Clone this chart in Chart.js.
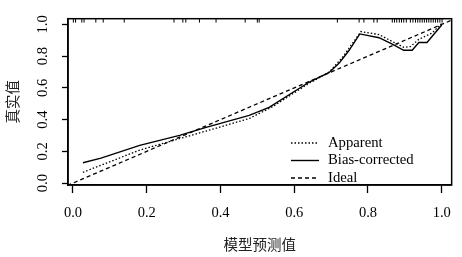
<!DOCTYPE html>
<html>
<head>
<meta charset="utf-8">
<script src="https://cdn.jsdelivr.net/npm/chart.js@4.4.1/dist/chart.umd.min.js"></script>
<style>
  body { margin: 0; background: #fff; }
  #wrap { width: 462px; height: 257px; }
</style>
</head>
<body>
<div id="wrap"><canvas id="calChart"></canvas></div>
<script>
// values
const biasX = [0.027, 0.076, 0.181, 0.289, 0.361, 0.478, 0.532, 0.641, 0.695, 0.722, 0.749, 0.778, 0.830, 0.866, 0.897, 0.920, 0.938, 0.960, 1.000];
const biasY = [0.128, 0.157, 0.238, 0.301, 0.351, 0.427, 0.477, 0.637, 0.697, 0.756, 0.837, 0.940, 0.916, 0.876, 0.837, 0.837, 0.886, 0.886, 0.996];

const apparentX = [0.027, 0.181, 0.361, 0.478, 0.540, 0.641, 0.695, 0.730, 0.781, 0.830, 0.866, 0.897, 0.915, 0.938, 0.974, 1.000];
const apparentY = [0.068, 0.208, 0.328, 0.407, 0.480, 0.630, 0.700, 0.790, 0.955, 0.936, 0.892, 0.856, 0.860, 0.906, 0.946, 1.006];

const idealX = [-0.05, 1.05];

// predicted probabilities shown as a rug on the top edge
const rugX = [0.001, 0.007, 0.024, 0.030, 0.062, 0.082, 0.139, 0.274, 0.298, 0.306, 0.343, 0.388, 0.467, 0.500, 0.505,
  0.717, 0.776, 0.789, 0.816, 0.825, 0.866, 0.872, 0.878, 0.885, 0.891, 0.897, 0.904, 0.915, 0.922, 0.929,
  0.935, 0.941, 0.947, 0.953, 0.959, 0.965, 0.971, 0.977, 0.983, 0.989, 0.995, 1.001];

const xTicks = [0, 0.2, 0.4, 0.6, 0.8, 1.0];
const yTicks = [0, 0.2, 0.4, 0.6, 0.8, 1.0];
const legendNames = ['Apparent', 'Bias-corrected', 'Ideal'];

const serif = '"Liberation Serif", "Times New Roman", serif';
const cjk = '"Noto Sans CJK SC", sans-serif';

const pts = (xs, ys) => xs.map((x, i) => ({ x: x, y: ys[i] }));

// full box round the plot
const boxPlugin = {
  id: 'box',
  afterDatasetsDraw(chart) {
    const a = chart.chartArea;
    const ctx = chart.ctx;
    ctx.save();
    ctx.strokeStyle = '#000';
    ctx.lineWidth = 1.5;
    ctx.strokeRect(a.left, a.top, a.right - a.left, a.bottom - a.top);
    ctx.restore();
  }
};

// legend inside the plot, lower right, with line samples
const lineLegend = {
  id: 'lineLegend',
  afterDraw(chart) {
    const ctx = chart.ctx;
    const rows = [143, 160.5, 178];
    ctx.save();
    ctx.font = '14.7px ' + serif;
    ctx.fillStyle = '#000';
    ctx.textBaseline = 'middle';
    legendNames.forEach((name, i) => {
      const ds = chart.data.datasets[i];
      ctx.strokeStyle = '#000';
      ctx.lineWidth = ds.borderWidth;
      ctx.setLineDash(ds.borderDash || []);
      ctx.beginPath();
      ctx.moveTo(291, rows[i]);
      ctx.lineTo(319, rows[i]);
      ctx.stroke();
      ctx.fillText(name, 328, rows[i]);
    });
    ctx.restore();
  }
};

new Chart(document.getElementById('calChart'), {
  type: 'scatter',
  data: {
    datasets: [
      {
        label: legendNames[0],
        data: pts(apparentX, apparentY),
        showLine: true,
        borderColor: '#000',
        borderWidth: 1.3,
        borderDash: [1.5, 2],
        pointRadius: 0,
        tension: 0
      },
      {
        label: legendNames[1],
        data: pts(biasX, biasY),
        showLine: true,
        borderColor: '#000',
        borderWidth: 1.4,
        pointRadius: 0,
        tension: 0
      },
      {
        label: legendNames[2],
        data: pts(idealX, idealX),
        showLine: true,
        borderColor: '#000',
        borderWidth: 1.3,
        borderDash: [4, 3],
        pointRadius: 0
      },
      {
        label: 'rug',
        data: rugX.map(x => ({ x: x, y: 1.024 })),
        showLine: false,
        pointStyle: 'line',
        rotation: 90,
        pointRadius: 2,
        borderColor: '#000',
        borderWidth: 1,
        clip: false
      }
    ]
  },
  options: {
    responsive: true,
    maintainAspectRatio: false,
    animation: false,
    events: [],
    layout: { padding: { top: 10, right: 9, left: 0, bottom: 0 } },
    plugins: {
      legend: { display: false },
      tooltip: { enabled: false }
    },
    scales: {
      x: {
        type: 'linear',
        min: -0.0135,
        max: 1.027,
        afterBuildTicks: (s) => { s.ticks = xTicks.map(v => ({ value: v })); },
        afterFit: (s) => { s.height = 72; },
        grid: { drawOnChartArea: false, drawTicks: true, tickLength: 8, tickWidth: 1.3, tickColor: '#000' },
        border: { display: true, color: '#000', width: 1.5 },
        ticks: {
          color: '#000',
          padding: 11,
          maxRotation: 0,
          font: { family: serif, size: 14.5 },
          callback: (v) => v.toFixed(1)
        },
        title: {
          display: true,
          text: '模型预测值',
          color: '#222',
          font: { family: cjk, size: 14.5 },
          padding: { top: 4, bottom: 4 }
        }
      },
      y: {
        type: 'linear',
        min: -0.012,
        max: 1.036,
        afterBuildTicks: (s) => { s.ticks = yTicks.map(v => ({ value: v })); },
        afterFit: (s) => { s.width = 68; },
        grid: { drawOnChartArea: false, drawTicks: true, tickLength: 6, tickWidth: 1.3, tickColor: '#000' },
        border: { display: true, color: '#000', width: 1.5 },
        ticks: {
          color: '#000',
          padding: 10,
          minRotation: 90,
          maxRotation: 90,
          crossAlign: 'center',
          font: { family: serif, size: 14.5 },
          callback: (v) => v.toFixed(1)
        },
        title: {
          display: true,
          text: '真实值',
          color: '#222',
          font: { family: cjk, size: 14.5 },
          padding: { top: 4, bottom: 4 }
        }
      }
    }
  },
  plugins: [boxPlugin, lineLegend]
});
</script>
</body>
</html>
